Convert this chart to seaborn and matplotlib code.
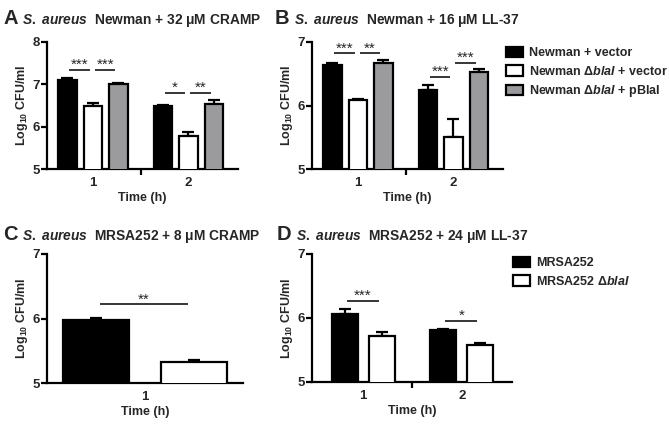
import numpy as np
import pandas as pd
import matplotlib
matplotlib.use("Agg")
import matplotlib.pyplot as plt
from matplotlib.patches import Patch
import seaborn as sns

# ---------------- data ----------------
times_two = ["1", "2"]
times_one = ["1"]

newman_strains = ["Newman + vector",
                  "Newman Δ$\\mathit{blaI}$ + vector",
                  "Newman Δ$\\mathit{blaI}$ + pBlaI"]
mrsa_strains = ["MRSA252", "MRSA252 Δ$\\mathit{blaI}$"]

# Panel A: Newman + 32 uM CRAMP (rows: strain, cols: time)
a_mean = [[7.11, 6.48], [6.48, 5.77], [7.01, 6.54]]
a_err = [[0.05, 0.03], [0.07, 0.11], [0.01, 0.10]]
# Panel B: Newman + 16 uM LL-37
b_mean = [[6.63, 6.25], [6.09, 5.51], [6.67, 6.52]]
b_err = [[0.04, 0.08], [0.02, 0.28], [0.04, 0.06]]
# Panel C: MRSA252 + 8 uM CRAMP
c_mean = [[5.97], [5.32]]
c_err = [[0.04], [0.04]]
# Panel D: MRSA252 + 24 uM LL-37
d_mean = [[6.07, 5.82], [5.72, 5.58]]
d_err = [[0.07, 0.01], [0.06, 0.03]]

# significance: (time index, hue i, hue j, y level, label)
a_sig = [(0, 0, 1, 7.34, "***"), (0, 1, 2, 7.34, "***"),
         (1, 0, 1, 6.80, "*"), (1, 1, 2, 6.80, "**")]
b_sig = [(0, 0, 1, 6.82, "***"), (0, 1, 2, 6.82, "**"),
         (1, 0, 1, 6.45, "***"), (1, 1, 2, 6.67, "***")]
c_sig = [(0, 0, 1, 6.22, "**")]
d_sig = [(0, 0, 1, 6.27, "***"), (1, 0, 1, 5.96, "*")]

titles = ["Newman + 32 μM CRAMP", "Newman + 16 μM LL-37",
          "MRSA252 + 8 μM CRAMP", "MRSA252 + 24 μM LL-37"]
letters = ["A", "B", "C", "D"]

# ---------------- style ----------------
sns.set_theme(style="ticks")
plt.rcParams["font.family"] = ["Liberation Sans", "DejaVu Sans"]
plt.rcParams["font.weight"] = "bold"
plt.rcParams["axes.labelweight"] = "bold"
plt.rcParams["mathtext.fontset"] = "custom"
plt.rcParams["mathtext.rm"] = "Liberation Sans:bold"
plt.rcParams["mathtext.it"] = "Liberation Sans:italic:bold"
plt.rcParams["mathtext.bf"] = "Liberation Sans:bold"

BLACK, WHITE, GREY = "#000000", "#ffffff", "#9a9a9e"
W, H = 669, 430
fig = plt.figure(figsize=(W / 100, H / 100), dpi=100)
fig.patch.set_facecolor("white")


def ax_px(l, r, t, b):
    return fig.add_axes([l / W, (H - b) / H, (r - l) / W, (b - t) / H])


def make_df(strains, times, mean, err):
    rows = []
    for si, s in enumerate(strains):
        for ti, t in enumerate(times):
            rows.append({"time": t, "strain": s, "value": mean[si][ti],
                         "err": err[si][ti]})
    return pd.DataFrame(rows)


def panel(ax, strains, times, mean, err, palette, ylim, yticks, width, gap,
          sig, xlim, divider):
    df = make_df(strains, times, mean, err)
    sns.barplot(data=df, x="time", y="value", hue="strain", order=times,
                hue_order=strains, palette=palette, edgecolor="black",
                linewidth=1.6, errorbar=None, width=width, gap=gap,
                legend=False, ax=ax, zorder=3)
    bar_conts = list(ax.containers)
    centers = {}
    for si, cont in enumerate(bar_conts):
        for ti, p in enumerate(cont.patches):
            xc = p.get_x() + p.get_width() / 2
            centers[(si, ti)] = xc
            ax.errorbar(xc, mean[si][ti], yerr=[[0], [err[si][ti]]],
                        color="black", elinewidth=1.6, capsize=4,
                        capthick=1.6, zorder=2)
    for ti, hi, hj, yl, lab in sig:
        x0 = centers[(hi, ti)] + 0.02
        x1 = centers[(hj, ti)] - 0.03
        ax.plot([x0, x1], [yl, yl], color="black", lw=1.1,
                solid_capstyle="butt")
        ax.annotate(lab, ((x0 + x1) / 2, yl), xytext=(0, 0.5),
                    textcoords="offset points", ha="center", va="baseline",
                    fontsize=11, fontweight="normal")
    ax.set_ylim(*ylim)
    ax.set_yticks(yticks)
    ax.set_xlim(*xlim)
    for side in ["top", "right"]:
        ax.spines[side].set_visible(False)
    for side in ["left", "bottom"]:
        ax.spines[side].set_linewidth(1.6)
        ax.spines[side].set_color("black")
    ax.tick_params(axis="y", length=4, width=1.6, labelsize=9.5, pad=1,
                   color="black")
    ax.tick_params(axis="x", which="major", length=0, labelsize=9.5, pad=6)
    if divider is not None:
        ax.set_xticks([divider], minor=True)
        ax.tick_params(axis="x", which="minor", length=4, width=1.6,
                       color="black")
    ax.set_ylabel("Log$_{10}$ CFU/ml", fontsize=9, fontweight="bold",
                  labelpad=2)
    ax.set_xlabel("Time (h)", fontsize=9, fontweight="bold", labelpad=2)
    plt.setp(ax.get_xticklabels() + ax.get_yticklabels(), fontweight="bold")
    ax.set_facecolor("none")


axA = ax_px(47, 238, 42, 169)
panel(axA, newman_strains, times_two, a_mean, a_err, [BLACK, WHITE, GREY],
      (5, 8), [5, 6, 7, 8], 0.8, 0.27, a_sig, (-0.48, 1.52), 0.5)
axB = ax_px(312, 503, 42, 169)
panel(axB, newman_strains, times_two, b_mean, b_err, [BLACK, WHITE, GREY],
      (5, 7), [5, 6, 7], 0.8, 0.27, b_sig, (-0.48, 1.52), 0.5)
axC = ax_px(47, 243, 254, 383)
panel(axC, mrsa_strains, times_one, c_mean, c_err, [BLACK, WHITE],
      (5, 7), [5, 6, 7], 1.0, 0.32, c_sig, (-0.5, 0.5), None)
axD = ax_px(312, 512, 254, 382)
panel(axD, mrsa_strains, times_two, d_mean, d_err, [BLACK, WHITE],
      (5, 7), [5, 6, 7], 0.75, 0.30, d_sig, (-0.52, 1.51), 0.5)

# titles
title_pos = [(3, 24), (275, 24), (3, 240), (277, 240)]
for (x, y), let, tt in zip(title_pos, letters, titles):
    fig.text(x / W, (H - y) / H, let, fontsize=14.5, fontweight="bold",
             ha="left", va="baseline")
    fig.text((x + 19) / W, (H - y) / H,
             "$\\mathit{S.\\ aureus}$  " + tt, fontsize=9.9,
             fontweight="bold", ha="left", va="baseline")

# legends
def add_legend(ax, labels, colors, x, y):
    handles = [Patch(facecolor=c, edgecolor="black", linewidth=1.6)
               for c in colors]
    ax.legend(handles, labels, loc="upper left",
              bbox_to_anchor=(x / W, (H - y) / H),
              bbox_transform=fig.transFigure, frameon=False, borderpad=0,
              borderaxespad=0, handlelength=1.35, handleheight=0.9,
              handletextpad=0.5, labelspacing=0.42,
              prop={"size": 9, "weight": "bold"})


add_legend(axB, newman_strains, [BLACK, WHITE, GREY], 506, 47)
add_legend(axD, mrsa_strains, [BLACK, WHITE], 513, 257)

fig.savefig("out.png", dpi=100, facecolor="white")
